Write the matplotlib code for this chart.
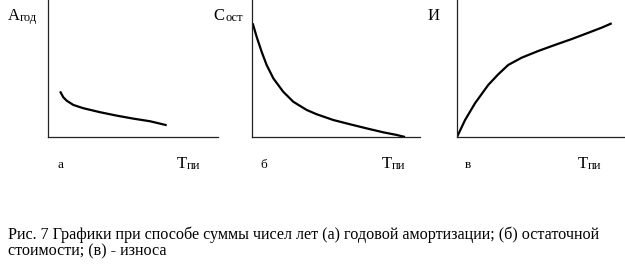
import matplotlib
matplotlib.use("Agg")
import matplotlib.pyplot as plt

plt.rcParams['font.family'] = ['Liberation Serif', 'DejaVu Serif']

# Curve data (arbitrary units, axes span 0..10)
a_x = [0.71, 0.90, 1.10, 1.49, 2.08, 3.06, 4.04, 5.02, 6.00, 6.98]
a_y = [3.33, 2.90, 2.65, 2.34, 2.10, 1.81, 1.56, 1.34, 1.15, 0.86]

b_x = [0.04, 0.28, 0.58, 0.87, 1.27, 1.86, 2.46, 3.26, 3.85, 4.84, 5.83, 6.82, 7.82, 8.61, 9.11]
b_y = [8.30, 7.30, 6.20, 5.26, 4.28, 3.30, 2.57, 1.97, 1.66, 1.24, 0.93, 0.63, 0.34, 0.15, 0.0]

c_x = [0, 0.48, 1.07, 1.86, 2.46, 3.05, 3.85, 4.84, 5.83, 6.83, 7.82, 8.61, 9.21]
c_y = [0, 1.24, 2.46, 3.80, 4.58, 5.26, 5.79, 6.28, 6.72, 7.15, 7.61, 7.98, 8.30]

y_main = ['А', 'С', 'И']
y_sub = ['год', 'ост', '']
panel_letters = ['а', 'б', 'в']
x_main = 'Т'
x_sub = 'пи'
caption_lines = [
    "Рис. 7 Графики при способе суммы чисел лет (а) годовой амортизации; (б) остаточной",
    "стоимости; (в) - износа",
]

W, H = 625, 264
fig = plt.figure(figsize=(W / 100, H / 100), dpi=100)

def fx(px):
    return px / W

def fy(py):
    return 1 - py / H

panels = [
    (48, 170, a_x, a_y),
    (252, 168, b_x, b_y),
    (457, 168, c_x, c_y),
]
ylab_px = [8, 213, 428]
let_px = [57, 260, 465]
t_px = [177, 382, 578]

for i, (left, width, xs, ys) in enumerate(panels):
    ax = fig.add_axes([fx(left), fy(137), width / W, 137 / H])
    ax.plot(xs, ys, color='black', lw=1.6, solid_capstyle='butt',
            solid_joinstyle='round')
    ax.set_xlim(0, 10)
    ax.set_ylim(0, 10)
    for s in ['top', 'right']:
        ax.spines[s].set_visible(False)
    for s in ['left', 'bottom']:
        ax.spines[s].set_linewidth(0.9)
        ax.spines[s].set_color('#222222')
    ax.set_xticks([])
    ax.set_yticks([])
    ax.patch.set_alpha(0)

    fig.text(fx(ylab_px[i]), fy(20), y_main[i], fontsize=12, ha='left', va='baseline')
    if y_sub[i]:
        fig.text(fx(ylab_px[i] + 12), fy(21), y_sub[i], fontsize=9, ha='left', va='baseline')
    fig.text(fx(let_px[i]), fy(168), panel_letters[i], fontsize=9.5, ha='left', va='baseline')
    fig.text(fx(t_px[i]), fy(168), x_main, fontsize=12, ha='left', va='baseline')
    fig.text(fx(t_px[i] + 9.5), fy(169), x_sub, fontsize=9, ha='left', va='baseline')

for j, line in enumerate(caption_lines):
    fig.text(fx(8), fy(239 + 16 * j), line, fontsize=11.6, ha='left', va='baseline')

fig.savefig('out.png', dpi=100, facecolor='white')
